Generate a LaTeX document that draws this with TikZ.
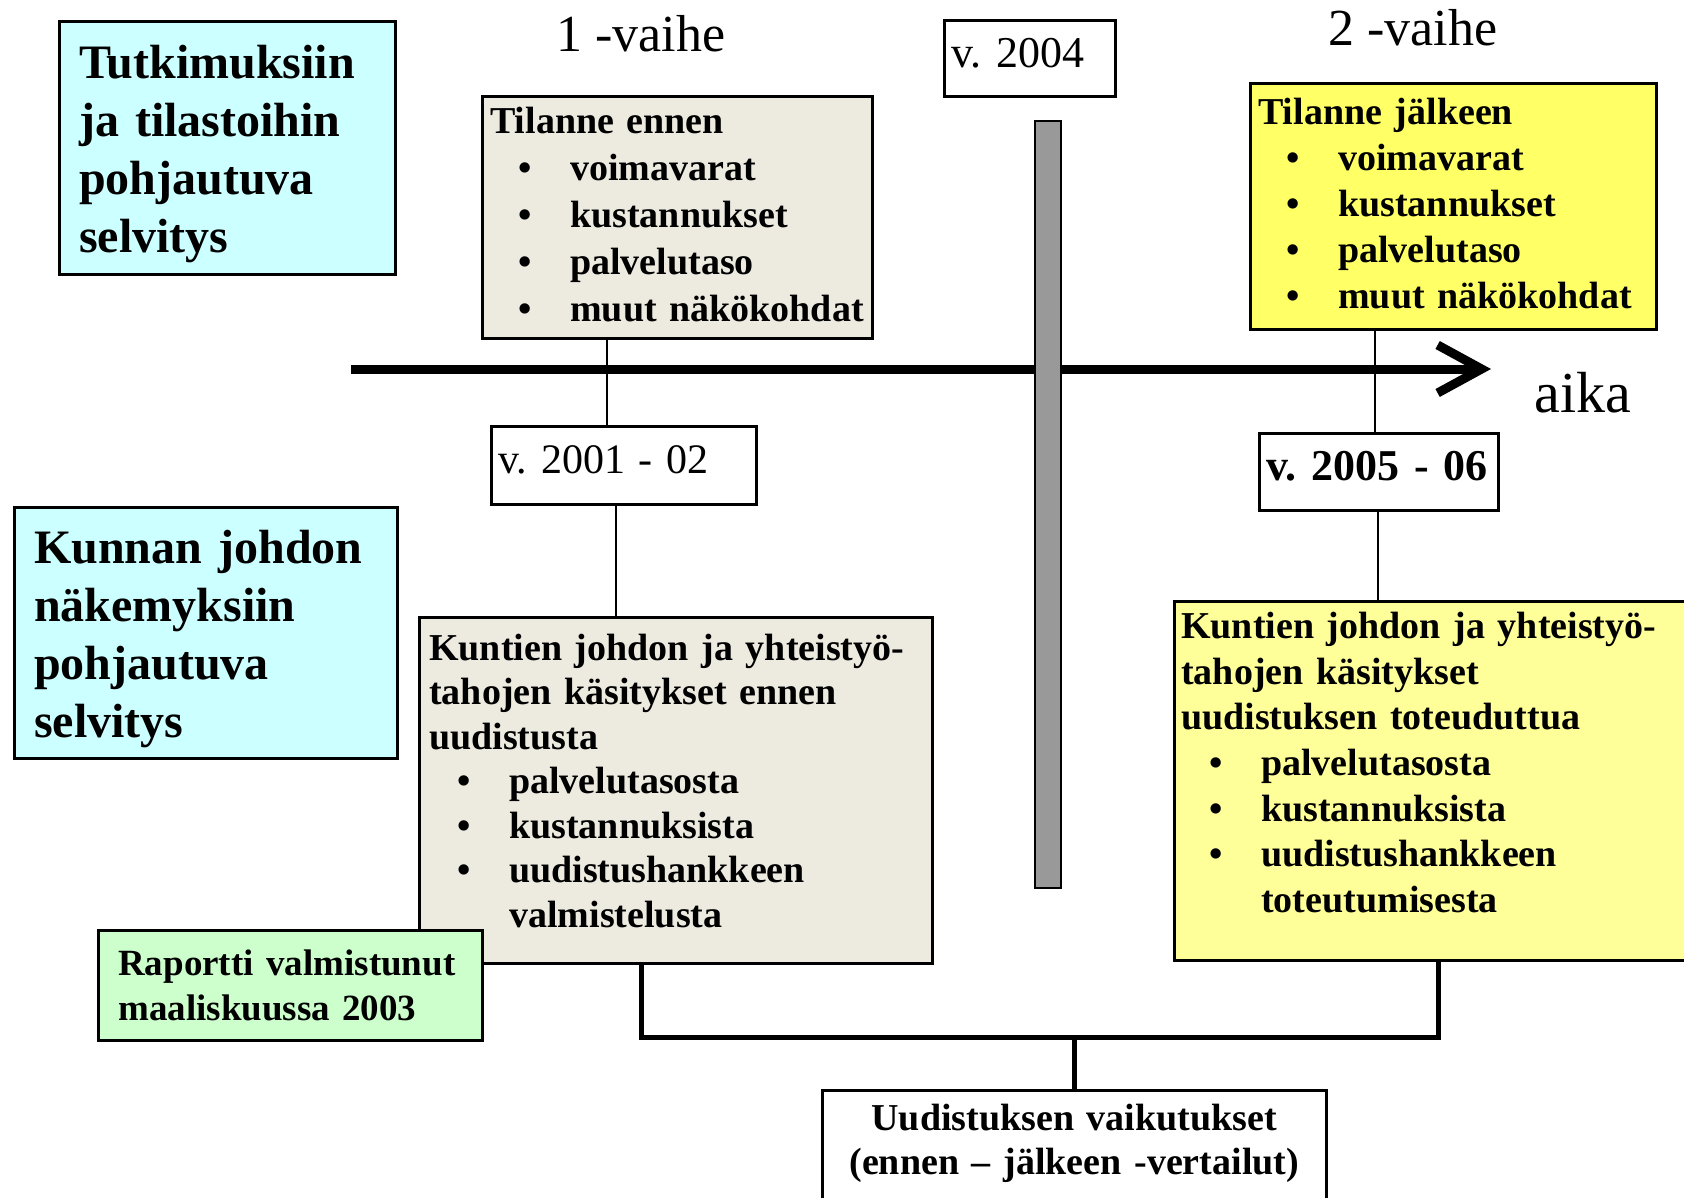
\documentclass[tikz,border=0pt]{standalone}
\usepackage{fontspec}
\setmainfont{Liberation Serif}
\usetikzlibrary{arrows.meta}
\definecolor{cyanbox}{HTML}{CCFFFF}
\definecolor{beigebox}{HTML}{EDEAE0}
\definecolor{yellowA}{HTML}{FFFF66}
\definecolor{yellowB}{HTML}{FFFF99}
\definecolor{greenbox}{HTML}{CCFFCC}
\definecolor{bargray}{HTML}{999999}
\frenchspacing
\newcommand\itm[1]{\hspace*{28pt}\makebox[52pt][l]{\textbullet}#1}
\newcommand\itmcont[1]{\hspace*{80pt}#1}
\newcommand\padtop[1]{\rule{0pt}{#1}}
\newcommand\padbot[1]{\rule[-#1]{0pt}{0pt}}
\tikzset{
  box/.style={draw, line width=2.5pt, anchor=north west, align=left, inner ysep=0pt},
  title/.style={font=\bfseries\fontsize{48}{58}\selectfont, inner xsep=20pt},
  body/.style={font=\bfseries\fontsize{38}{46}\selectfont, inner xsep=8pt},
  year/.style={font=\fontsize{44}{50}\selectfont, inner xsep=7pt},
  phase/.style={font=\fontsize{52}{60}\selectfont},
  link/.style={line width=2pt},
  bracket/.style={line width=5pt},
  timeline/.style={line width=9pt, -{Straight Barb[length=44pt,width=48pt]}}
}
\begin{document}
\begin{tikzpicture}[x=1pt,y=-1pt]
\fill[white] (0,0) rectangle (1684,1197);
\useasboundingbox (0,0) rectangle (1684,1197);
% time axis
\coordinate (t0) at (351,369);
\coordinate (t1) at (1491,369);
\draw[timeline] (t0) -- (t1);
\node[phase] (vaihe1) at (641,34) {1 -vaihe};
\node[phase] (vaihe2) at (1413,28) {2 -vaihe};
\node[font=\fontsize{58}{64}\selectfont] (aika) at (1583,393) {aika};
% left column
\node[box, title, fill=cyanbox, text width=296pt, minimum height=253pt] (tutk) at (58,20)
  {\padtop{46pt}Tutkimuksiin\\ja tilastoihin\\pohjautuva\\selvitys};
\node[box, title, fill=cyanbox, text width=343pt, minimum height=251pt] (kunnan) at (13,506)
  {\padtop{45pt}Kunnan johdon\\näkemyksiin\\pohjautuva\\selvitys};
% phase 1
\node[box, body, font=\bfseries\fontsize{38}{47}\selectfont, fill=beigebox, text width=374pt, minimum height=242pt] (ennen) at (481,95)
  {Tilanne ennen\\\itm{voimavarat}\\\itm{kustannukset}\\\itm{palvelutaso}\\\itm{\mbox{muut näkökohdat}}\padbot{6pt}};
\node[box, year, font=\fontsize{42}{50}\selectfont, text width=251pt, minimum height=78pt] (v2001) at (490,425) {v. 2001 - 02\padbot{12pt}};
\node[box, body, font=\bfseries\fontsize{38}{44.5}\selectfont, inner xsep=10pt, fill=beigebox, text width=493pt, minimum height=346pt] (kuntA) at (418,616)
  {\mbox{Kuntien johdon ja yhteistyö-}\\tahojen käsitykset ennen\\uudistusta\\\itm{palvelutasosta}\\\itm{kustannuksista}\\\itm{uudistushankkeen}\\\itmcont{valmistelusta}\padbot{19pt}};
\node[box, body, font=\bfseries\fontsize{37}{45}\selectfont, inner xsep=20pt, fill=greenbox, text width=344pt, minimum height=110pt] (rap) at (97,929)
  {Raportti valmistunut\\maaliskuussa 2003};
% year 2004
\node[box, year, text width=157pt, minimum height=76pt] (v2004) at (943,19) {v. 2004\padbot{10pt}};
\node[draw, line width=2pt, fill=bargray, inner sep=0pt, minimum width=26pt, minimum height=767pt, anchor=north west] (bar) at (1034,120) {};
% phase 2
\node[box, body, fill=yellowA, text width=390pt, minimum height=246pt] (jalk) at (1249,82)
  {Tilanne jälkeen\\\itm{voimavarat}\\\itm{kustannukset}\\\itm{palvelutaso}\\\itm{\mbox{muut näkökohdat}}\padbot{5pt}};
\node[box, year, font=\bfseries\fontsize{44}{50}\selectfont, text width=225pt, minimum height=77pt] (v2005) at (1258,432) {\mbox{v. 2005 - 06}\padbot{12pt}};
\node[box, body, font=\bfseries\fontsize{38}{45.6}\selectfont, inner xsep=7pt, fill=yellowB, text width=520pt, minimum height=359pt] (kuntB) at (1173,600)
  {\mbox{Kuntien johdon ja yhteistyö-}\\tahojen käsitykset\\uudistuksen toteuduttua\\\itm{palvelutasosta}\\\itm{kustannuksista}\\\itm{uudistushankkeen}\\\itmcont{toteutumisesta}\padbot{37pt}};
% result
\node[box, body, font=\bfseries\fontsize{38}{44}\selectfont, align=center, text width=488pt, minimum height=156pt] (vaik) at (821,1089)
  {Uudistuksen vaikutukset\\(ennen – jälkeen -vertailut)\\\strut};
% connectors
\draw[link] ([xshift=126pt]ennen.south west) -- ([xshift=117pt]v2001.north west);
\draw[link] ([xshift=126pt]v2001.south west) -- ([xshift=198pt]kuntA.north west);
\draw[link] ([xshift=126pt]jalk.south west) -- ([xshift=117pt]v2005.north west);
\draw[link] ([xshift=120pt]v2005.south west) -- ([xshift=205pt]kuntB.north west);
\coordinate (lvl) at (0,1037);
\coordinate (join) at (vaik.north |- lvl);
\draw[bracket] ([xshift=223pt]kuntA.south west) |- (join) -| ([xshift=265pt]kuntB.south west);
\draw[bracket] (join) -- (vaik.north);
\end{tikzpicture}
\end{document}
